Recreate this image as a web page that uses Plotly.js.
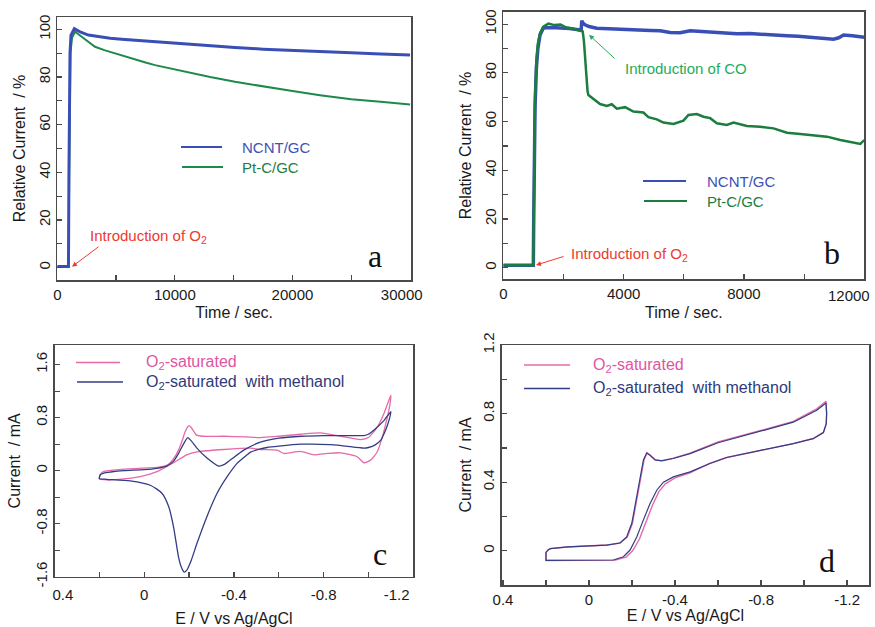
<!DOCTYPE html>
<html><head><meta charset="utf-8">
<script src="https://cdn.plot.ly/plotly-3.0.1.min.js"></script>
<style>html,body{margin:0;padding:0;background:#fff}#chart{width:875px;height:627px}</style>
</head><body><div id="chart"></div>
<script>
// ---------- Panel a : chronoamperometry, 30000 s ----------
const aTimeNCNT = [0,950,990,1020,1080,1165,1361,1450,1700,2000,2637,3500,4500,5475,7000,8310,10000,11145,13000,15115,17500,20000,22500,25000,27500,30000];
const aRelNCNT  = [0.5,0.5,40,75,90,97.6,100,100.3,99.6,98.8,97.6,96.9,96.3,95.9,95.3,94.8,94.1,93.7,93.1,92.4,91.7,91.1,90.7,90.2,89.7,89.2];
const aTimePtC  = [0,960,1010,1050,1120,1250,1450,1506,2075,2637,3206,4000,4700,5475,6500,7500,8310,9200,10000,11145,13000,15115,17500,20000,22340,25000,27500,30000];
const aRelPtC   = [0.5,0.5,40,75,90,96.5,98.8,99.0,96.9,94.8,92.7,91.3,90.2,89.2,87.6,86.1,85.0,84.0,83.2,81.9,80.0,78.0,76.0,74.1,72.4,70.7,69.6,68.5];

// ---------- Panel b : CO tolerance, 12000 s ----------
const bTimeNCNT = [0,500,998,1010,1030,1055,1100,1150,1221,1331,1600,1886,2200,2552,2590,2608,2650,2718,2850,3107,3450,3773,4200,4548,4900,5213,5545,5879,6210,6600,7000,7400,7764,8200,8600,9000,9428,9800,10200,10600,10979,11150,11311,11600,11800,12000];
const bRelNCNT  = [1,1,1,18,48,66,82,90,95.5,98.4,98.6,98.5,98.2,97.6,97.8,101.4,100.4,99.7,99.0,98.3,98.1,97.9,97.5,97.3,97.4,97.3,96.6,96.5,97.3,97.0,96.7,96.4,96.0,96.1,95.7,95.5,95.2,95.0,94.6,94.3,93.8,94.4,95.5,95.2,94.9,94.6];
const bTimePtC  = [0,500,998,1010,1030,1055,1100,1150,1221,1331,1500,1700,1900,2100,2300,2500,2640,2680,2720,2760,2800,2828,2994,3217,3440,3606,3773,4049,4325,4658,4824,5103,5323,5546,5656,5989,6155,6433,6654,6877,7099,7432,7653,8097,8540,8983,9429,9871,10313,10759,11202,11645,11867,12000];
const bRelPtC   = [1,1,1,20,50,70,85,92,96.3,99,100.2,99.6,99.8,98.6,98.2,97.4,97.0,93,85,77,72.5,70.9,69.2,67.2,66.4,67.1,65.3,65.9,64.1,63.7,61.8,60.9,59.6,59.3,59.0,60.4,62.7,63.1,62.0,61.4,59.3,58.6,59.6,58.2,57.9,57.2,55.4,54.9,54.5,53.8,52.4,51.3,50.8,52.4];

// ---------- Panel c : CV of Pt-C (E in V, I in mA) ----------
const cE_O2 = [0.2,0.195,0.18,0.1,0.0,-0.057,-0.1,-0.116,-0.135,-0.153,-0.17,-0.183,-0.198,-0.208,-0.218,-0.232,-0.26,-0.355,-0.45,-0.518,-0.6,-0.697,-0.787,-0.876,-0.965,-1.0,-1.04,-1.07,-1.1,
  -1.095,-1.085,-1.062,-1.04,-1.01,-0.98,-0.95,-0.876,-0.817,-0.757,-0.697,-0.623,-0.593,-0.518,-0.474,-0.355,-0.25,-0.19,-0.131,-0.057,0.018,0.092,0.167,0.2];
const cI_O2 = [-0.125,-0.05,-0.01,0.02,0.04,0.05,0.08,0.12,0.2,0.31,0.46,0.59,0.675,0.66,0.61,0.54,0.52,0.52,0.51,0.50,0.52,0.55,0.57,0.52,0.47,0.50,0.66,0.87,1.14,
  0.98,0.82,0.51,0.29,0.16,0.12,0.21,0.27,0.26,0.24,0.29,0.26,0.31,0.32,0.34,0.32,0.29,0.24,0.12,-0.015,-0.09,-0.125,-0.14,-0.125];
const cE_MeOH = [0.2,0.195,0.18,0.15,0.09,0.0,-0.057,-0.1,-0.13,-0.153,-0.175,-0.194,-0.21,-0.235,-0.28,-0.332,-0.36,-0.384,-0.444,-0.518,-0.6,-0.7,-0.8,-0.9,-0.98,-1.0,-1.03,-1.07,-1.1,
  -1.095,-1.085,-1.07,-1.055,-1.03,-1.0,-0.98,-0.9,-0.846,-0.75,-0.697,-0.6,-0.548,-0.518,-0.474,-0.459,-0.414,-0.37,-0.325,-0.28,-0.235,-0.21,-0.19,-0.178,-0.165,-0.153,-0.131,-0.109,-0.079,-0.027,0.063,0.167,0.2];
const cI_MeOH = [-0.12,-0.06,-0.035,-0.02,0.0,0.015,0.036,0.07,0.14,0.26,0.40,0.50,0.45,0.34,0.19,0.07,0.10,0.16,0.31,0.43,0.49,0.52,0.53,0.53,0.53,0.55,0.63,0.76,0.89,
  0.80,0.69,0.56,0.46,0.39,0.35,0.34,0.37,0.39,0.40,0.40,0.37,0.35,0.33,0.28,0.24,0.11,-0.09,-0.34,-0.69,-1.10,-1.35,-1.50,-1.53,-1.45,-1.30,-0.85,-0.54,-0.34,-0.22,-0.155,-0.13,-0.12];

// ---------- Panel d : CV of NCNT (E in V, I in mA) ----------
const dE_O2 = [0.2,0.2,0.19,0.18,0.1,0.0,-0.082,-0.144,-0.178,-0.202,-0.225,-0.24,-0.256,-0.27,-0.286,-0.309,-0.338,-0.392,-0.47,-0.6,-0.795,-0.95,-1.059,-1.102,
  -1.105,-1.103,-1.09,-1.043,-0.95,-0.795,-0.64,-0.56,-0.47,-0.40,-0.355,-0.325,-0.295,-0.265,-0.235,-0.203,-0.172,-0.122,0.0,0.15,0.2,0.2];
const dI_O2 = [-0.05,-0.01,0.005,0.012,0.022,0.028,0.033,0.045,0.08,0.16,0.31,0.43,0.53,0.572,0.557,0.53,0.526,0.54,0.57,0.635,0.70,0.755,0.828,0.872,
  0.80,0.74,0.69,0.656,0.625,0.586,0.544,0.51,0.455,0.425,0.39,0.345,0.265,0.168,0.07,0.0,-0.037,-0.055,-0.057,-0.057,-0.057,-0.05];
const dE_MeOH = [0.2,0.2,0.19,0.18,0.1,0.0,-0.082,-0.144,-0.175,-0.199,-0.222,-0.237,-0.253,-0.268,-0.284,-0.307,-0.338,-0.392,-0.47,-0.6,-0.795,-0.95,-1.059,-1.102,
  -1.105,-1.103,-1.09,-1.043,-0.95,-0.795,-0.64,-0.563,-0.47,-0.392,-0.346,-0.315,-0.284,-0.253,-0.222,-0.191,-0.16,-0.113,0.0,0.15,0.2,0.2];
const dI_MeOH = [-0.05,-0.01,0.005,0.012,0.022,0.028,0.033,0.045,0.08,0.16,0.31,0.43,0.53,0.57,0.557,0.53,0.524,0.538,0.567,0.63,0.697,0.75,0.82,0.862,
  0.80,0.74,0.69,0.654,0.625,0.586,0.544,0.509,0.46,0.431,0.40,0.353,0.276,0.18,0.08,0.004,-0.035,-0.054,-0.056,-0.056,-0.056,-0.05];

// ---------- tick labels ----------
const aXTickVals = [0,10000,20000,30000];
const aXTickText = ['0','10000','20000','30000\u2007\u2007'];
const abYTickVals = [0,20,40,60,80,100];
const abYTickText = ['0','20','40','60','80','100'];
const bXTickVals = [0,4000,8000,12000];
const bXTickText = ['0','4000','8000',''];
const bXLastLabel = '12000';
const cdXTickVals = [0.4,0,-0.4,-0.8,-1.2];
const cXTickText = ['\u2007\u20070.4','0','-0.4','-0.8','-1.2\u2007\u2007\u2007\u2007'];
const dXTickText = ['0.4','0','-0.4','-0.8','-1.2'];
const cYTickVals = [1.6,0.8,0,-0.8,-1.6];
const cYTickText = ['1.6','0.8','0','-0.8','-1.6'];
const dYTickVals = [0,0.4,0.8,1.2];
const dYTickText = ['0','0.4','0.8','1.2'];

const W = 875, H = 627;
const px = v => v / W, py = v => 1 - v / H;

const BLUE = '#3a4fb6', GREEN = '#1d8a4a', GREEN_B = '#1b7d3e';
const PINK = '#e46aa8', NAVY = '#333d84';
const FONT = 'Liberation Sans, Arial, sans-serif';

const traces = [
  {x: aTimePtC, y: aRelPtC, xaxis: 'x', yaxis: 'y', mode: 'lines', line: {color: GREEN, width: 2}, name: 'Pt-C/GC'},
  {x: aTimeNCNT, y: aRelNCNT, xaxis: 'x', yaxis: 'y', mode: 'lines', line: {color: BLUE, width: 3}, name: 'NCNT/GC'},
  {x: bTimeNCNT, y: bRelNCNT, xaxis: 'x2', yaxis: 'y2', mode: 'lines', line: {color: BLUE, width: 3.5}, name: 'NCNT/GC'},
  {x: bTimePtC, y: bRelPtC, xaxis: 'x2', yaxis: 'y2', mode: 'lines', line: {color: GREEN_B, width: 2.5}, name: 'Pt-C/GC'},
  {x: cE_O2, y: cI_O2, xaxis: 'x3', yaxis: 'y3', mode: 'lines', line: {color: PINK, width: 1.3, shape: 'spline', smoothing: 0.6}, name: 'O2-saturated'},
  {x: cE_MeOH, y: cI_MeOH, xaxis: 'x3', yaxis: 'y3', mode: 'lines', line: {color: NAVY, width: 1.3, shape: 'spline', smoothing: 0.6}, name: 'O2-saturated with methanol'},
  {x: dE_O2, y: dI_O2, xaxis: 'x4', yaxis: 'y4', mode: 'lines', line: {color: PINK, width: 1.4}, name: 'O2-saturated'},
  {x: dE_MeOH, y: dI_MeOH, xaxis: 'x4', yaxis: 'y4', mode: 'lines', line: {color: NAVY, width: 1.2}, name: 'O2-saturated with methanol'}
];

function axis(extra) {
  return Object.assign({
    showline: true, mirror: true, linecolor: '#4a4a4a', linewidth: 1.5,
    ticks: 'inside', ticklen: 5, tickwidth: 1.2, tickcolor: '#4a4a4a',
    showgrid: false, zeroline: false, tickmode: 'array',
    tickfont: {family: FONT, size: 15, color: '#1a1a1a'},
    ticklabeloverflow: 'allow',
    automargin: false
  }, extra);
}
const titleFont = {family: FONT, size: 16, color: '#1a1a1a'};
function minor(vals) { return {tickmode: 'array', tickvals: vals, ticks: 'inside', ticklen: 5, tickcolor: '#4a4a4a'}; }

const layout = {
  width: W, height: H,
  margin: {l: 0, r: 0, t: 0, b: 0},
  paper_bgcolor: '#fff', plot_bgcolor: '#fff',
  showlegend: false,
  xaxis: axis({domain: [px(57.3), px(411)], anchor: 'y', range: [0, 30080],
    tickvals: aXTickVals, ticktext: aXTickText, minor: minor([5000,15000,25000]),
    title: {text: 'Time / sec.', font: titleFont, standoff: 5}}),
  yaxis: axis({domain: [py(280), py(17)], anchor: 'x', range: [-5.2, 105.2],
    tickvals: abYTickVals, ticktext: abYTickText, tickangle: -90, minor: minor([10,30,50,70,90]),
    title: {text: 'Relative Current\u00a0 / %', font: titleFont, standoff: 6}}),
  xaxis2: axis({domain: [px(503.3), px(864.3)], anchor: 'y2', range: [0, 12000.5],
    tickvals: bXTickVals, ticktext: bXTickText, minor: minor([2000,6000,10000]),
    title: {text: 'Time / sec.', font: titleFont, standoff: 6}}),
  yaxis2: axis({domain: [py(279.3), py(11.7)], anchor: 'x2', range: [-4.76, 105.1],
    tickvals: abYTickVals, ticktext: abYTickText, tickangle: -90, minor: minor([10,30,50,70,90]),
    title: {text: 'Relative Current\u00a0 / %', font: titleFont, standoff: 6}}),
  xaxis3: axis({domain: [px(54.5), px(413.3)], anchor: 'y3', range: [0.4, -1.2],
    tickvals: cdXTickVals, ticktext: cXTickText, minor: minor([0.2,-0.2,-0.6,-1.0]),
    ticklabelstandoff: 4,
    title: {text: 'E / V vs Ag/AgCl', font: titleFont, standoff: 10}}),
  yaxis3: axis({domain: [py(576.7), py(345)], anchor: 'x3', range: [-1.6, 1.897],
    tickvals: cYTickVals, ticktext: cYTickText, tickangle: -90, minor: minor([1.2,0.4,-0.4,-1.2]),
    title: {text: 'Current\u00a0 / mA', font: titleFont, standoff: 8}}),
  xaxis4: axis({domain: [px(501.7), px(869)], anchor: 'y4', range: [0.406, -1.302],
    tickvals: cdXTickVals, ticktext: dXTickText, minor: minor([0.2,-0.2,-0.6,-1.0]),
    title: {text: 'E / V vs Ag/AgCl', font: titleFont, standoff: 0}}),
  yaxis4: axis({domain: [py(585), py(345)], anchor: 'x4', range: [-0.2, 1.2005],
    tickvals: dYTickVals, ticktext: dYTickText, tickangle: -90, minor: minor([0.2,0.6,1.0]),
    title: {text: 'Current\u00a0 / mA', font: titleFont, standoff: 4}}),
  shapes: [],
  annotations: []
};

// last x tick label of panel b, kept inside the picture as in the reference
layout.annotations.push({xref: 'paper', yref: 'paper', x: px(872), y: py(295), xanchor: 'right', yanchor: 'middle', showarrow: false,
  text: bXLastLabel, font: {family: FONT, size: 15, color: '#1a1a1a'}});

// legends drawn as line samples + coloured labels
function legendItem(x0, x1, y, color, lw, label, tx, tcolor, size) {
  layout.shapes.push({type: 'line', xref: 'paper', yref: 'paper', x0: px(x0), x1: px(x1), y0: py(y), y1: py(y), line: {color: color, width: lw}});
  layout.annotations.push({xref: 'paper', yref: 'paper', x: px(tx), y: py(y), xanchor: 'left', yanchor: 'middle', showarrow: false,
    text: label, font: {family: FONT, size: size, color: tcolor}});
}
legendItem(181, 222, 147, BLUE, 1.8, 'NCNT/GC', 240, '#3d52b2', 15);
legendItem(182, 223, 167, GREEN, 1.8, 'Pt-C/GC', 240, '#1e7c42', 15);
legendItem(643, 686, 181, BLUE, 1.8, 'NCNT/GC', 705, '#3d52b2', 15);
legendItem(644, 687, 201, GREEN_B, 1.8, 'Pt-C/GC', 705, '#1e7c42', 15);
legendItem(76, 120, 362.5, PINK, 1.3, 'O<sub>2</sub>-saturated', 144, '#e0559f', 16);
legendItem(77, 123, 382, NAVY, 1.5, 'O<sub>2</sub>-saturated\u00a0 with methanol', 144, '#2e3a7a', 16);
legendItem(524, 570, 365, PINK, 1.3, 'O<sub>2</sub>-saturated', 591, '#e0559f', 16);
legendItem(524, 570, 388.5, NAVY, 1.5, 'O<sub>2</sub>-saturated\u00a0 with methanol', 591, '#2e3a7a', 16);

// arrows and notes
const RED = '#ee3a30', COGREEN = '#22ad5c';
layout.annotations.push(
  {xref: 'x', yref: 'y', x: 1250, y: 0.4, ax: 28, ay: -21, text: '', showarrow: true, arrowhead: 2, arrowsize: 1, arrowwidth: 1, arrowcolor: RED},
  {xref: 'x', yref: 'y', x: 2611, y: 13.0, xanchor: 'left', yanchor: 'middle', showarrow: false, text: 'Introduction of O<sub>2</sub>', font: {family: FONT, size: 15, color: RED}},
  {xref: 'x2', yref: 'y2', x: 1088, y: 1.1, ax: 29, ay: -9, text: '', showarrow: true, arrowhead: 2, arrowsize: 1, arrowwidth: 1, arrowcolor: RED},
  {xref: 'x2', yref: 'y2', x: 2196, y: 5.6, xanchor: 'left', yanchor: 'middle', showarrow: false, text: 'Introduction of O<sub>2</sub>', font: {family: FONT, size: 15, color: RED}},
  {xref: 'x2', yref: 'y2', x: 2851, y: 95.6, ax: 27, ay: 25, text: '', showarrow: true, arrowhead: 2, arrowsize: 1, arrowwidth: 1, arrowcolor: COGREEN},
  {xref: 'x2', yref: 'y2', x: 3972, y: 81.9, xanchor: 'left', yanchor: 'middle', showarrow: false, text: 'Introduction of CO', font: {family: FONT, size: 15, color: COGREEN}}
);
// panel letters
[['a', 375, 256], ['b', 832, 253], ['c', 380, 554], ['d', 827, 561]].forEach(([t, x, y]) => {
  layout.annotations.push({xref: 'paper', yref: 'paper', x: px(x), y: py(y), xanchor: 'center', yanchor: 'middle', showarrow: false,
    text: t, font: {family: 'Liberation Serif, Times New Roman, serif', size: 32, color: '#111'}});
});

Plotly.newPlot('chart', traces, layout, {staticPlot: true, displayModeBar: false});
</script></body></html>
